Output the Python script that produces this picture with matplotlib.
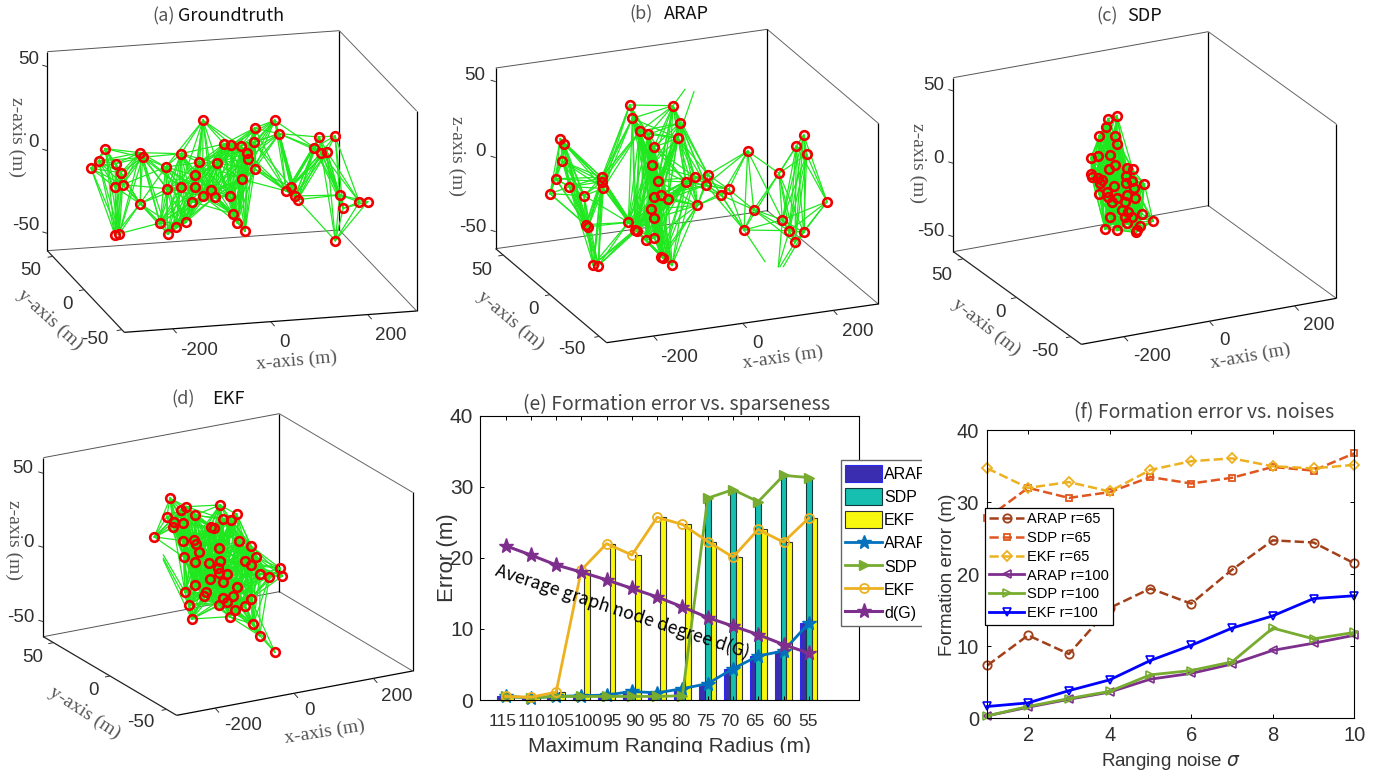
import numpy as np
import matplotlib
matplotlib.use('Agg')
import matplotlib.pyplot as plt
from matplotlib.patches import Rectangle

# node positions as seen in the picture (crop pixels, 3x)
nodes_a = [(609,361),(824,361),(764,384),(838,401),(957,411),(1005,408),(763,426),(672,432),(694,435),(723,438),
           (741,458),(943,443),(964,458),(981,455),(316,446),(420,458),(428,472),(296,483),(347,491),(273,505),
           (497,501),(543,461),(598,487),(652,490),(362,518),(584,526),(764,507),(726,538),(368,554),(345,561),
           (501,566),(542,562),(584,560),(632,571),(608,588),(645,590),(690,587),(873,561),(859,573),(885,588),
           (893,599),(1019,585),(575,605),(420,611),(1078,606),(1103,605),(1030,625),(698,641),(480,669),(557,667),
           (529,682),(503,702),(712,668),(735,693),(345,705),(358,701),(1006,722),(744,476)]
nodes_b = [(569,315),(699,317),(577,355),(720,369),(599,394),(625,403),(714,414),(641,442),(361,416),(373,432),
           (367,484),(635,495),(923,453),(1069,438),(1091,405),(1100,463),(1017,520),(347,536),(485,532),(486,545),
           (490,565),(388,560),(330,581),(432,587),(655,542),(737,546),(764,530),(804,524),(798,555),(866,568),
           (844,586),(642,592),(662,586),(684,596),(772,616),(1161,605),(941,629),(633,628),(643,655),(1027,659),
           (437,674),(445,680),(565,667),(585,689),(590,692),(912,690),(1048,692),(1091,697),(1065,727),(619,721),
           (643,714),(664,770),(670,775),(460,794),(475,797),(696,796)]
nodes_c = [(681,347),(655,356),(648,382),(628,408),(675,408),(682,432),(603,473),(624,467),(660,465),(676,496),
           (657,507),(710,505),(728,508),(603,522),(605,530),(625,535),(635,540),(630,548),(708,528),(727,543),
           (708,550),(763,552),(671,557),(732,565),(627,581),(650,575),(655,590),(680,595),(710,585),(735,595),
           (697,630),(715,635),(755,641),(660,651),(705,650),(725,650),(789,663),(712,670),(750,678),(645,686),
           (681,691),(740,690),(737,697),(665,605),(705,605)]
nodes_d = [(510,340),(559,365),(543,375),(584,391),(660,360),(710,388),(668,402),(694,404),(500,397),(522,412),
           (548,413),(520,425),(632,427),(642,430),(463,456),(550,467),(583,464),(587,477),(716,468),(753,483),
           (596,501),(656,489),(552,517),(586,532),(768,516),(735,529),(754,540),(627,535),(660,527),(655,548),
           (840,550),(847,573),(681,568),(658,565),(780,567),(808,575),(630,582),(670,590),(585,600),(710,607),
           (555,621),(618,621),(611,633),(699,634),(567,660),(656,659),(668,640),(680,650),(752,641),(735,664),
           (704,676),(689,695),(575,702),(760,718),(779,752),(825,802)]

# edges leaving the last node positions (anchor nodes out of view)
stray_b = [((699,317),(735,268)),((714,414),(762,275)),((912,690),(975,785)),((1027,659),(1015,800)),
           ((1065,727),(1020,800)),((1091,697),(1030,800)),((1048,692),(1015,800))]
stray_d = [((490,510),(555,621)),((490,520),(567,660)),((490,525),(575,702))]

radius_labels = ['115','110','105','100','95','90','95','80','75','70','65','60','55']
label_pos_e = [218,305,390,475,545,615,683,752,827,898,975,1055,1133]
bar_arap = [0.5,0.3,0.5,0.6,0.7,1.2,1.0,1.6,2.3,4.4,6.2,6.9,10.8]
bar_sdp = [0.5,0.3,0.5,0.5,0.5,0.5,0.5,0.6,28.4,29.6,27.9,31.6,31.3]
bar_ekf = [0.5,0.4,1.1,18.3,22.0,20.4,25.7,24.7,22.3,20.1,24.0,22.2,25.6]
degree_g = [21.7,20.4,19.0,18.0,16.9,15.7,14.5,13.1,11.6,10.4,9.2,7.8,6.6]

noise = [1,2,3,4,5,6,7,8,9,10]
arap_65 = [7.3,11.5,8.9,15.3,18.0,15.9,20.6,24.7,24.4,21.5]
sdp_65 = [27.8,32.0,30.6,31.4,33.5,32.6,33.4,34.9,34.4,36.8]
ekf_65 = [34.7,32.0,32.8,31.5,34.5,35.7,36.1,35.0,34.7,35.2]
arap_100 = [0.3,1.5,2.6,3.6,5.4,6.2,7.5,9.4,10.4,11.5]
sdp_100 = [0.3,1.6,2.7,3.7,6.0,6.6,7.8,12.5,11.0,11.9]
ekf_100 = [1.6,2.1,3.8,5.3,8.0,10.1,12.5,14.2,16.6,17.0]

SANS = 'Liberation Sans'
CJK = 'Noto Sans CJK SC'
TICK_C = '#303030'

fig = plt.figure(figsize=(13.85, 7.73), dpi=100)
W, H = 1385.0, 773.0

def px_axes(x0, y0, x1, y1):
    return fig.add_axes([x0/W, 1-y1/H, (x1-x0)/W, (y1-y0)/H])

ov = fig.add_axes([0, 0, 1, 1], zorder=5)
ov.set_xlim(0, W)
ov.set_ylim(H, 0)
ov.axis('off')

def draw_box(off, c, zt, yt, xt, zl, yl, xl, lab, rot, title, nodes, reach, stray=()):
    ox, oy = off
    P = lambda p: (p[0]/3.0+ox, p[1]/3.0+oy)
    A, B, C, D, E, F, G = [P(p) for p in c]
    def seg(a, b, col, lw):
        ov.plot([a[0], b[0]], [a[1], b[1]], color=col, lw=lw, solid_capstyle='butt', zorder=1)
    seg(A, B, '#555555', 0.7)
    seg(B, C, '#666666', 0.7)
    seg(G, D, '#666666', 0.7)
    seg(F, G, '#555555', 0.7)
    seg(A, F, 'black', 0.9)
    seg(B, G, 'black', 0.9)
    seg(C, D, 'black', 0.9)
    seg(F, E, '#222222', 0.9)
    seg(E, D, 'black', 0.9)
    for p in zt:
        a = P(p)
        seg(a, (a[0]-5, a[1]-1.5), '#333333', 0.7)
    for p in yt:
        a = P(p)
        seg(a, (a[0]-5, a[1]+1), '#333333', 0.7)
    for p in xt:
        a = P(p)
        seg(a, (a[0]+4, a[1]+4.5), '#333333', 0.7)
    for (p, s) in zip(zl+yl+xl, ['50','0','-50','50','0','-50','-200','0','200']):
        a = P(p)
        ov.text(a[0], a[1], s, fontsize=13.5, family=SANS, color=TICK_C, ha='center', va='center', zorder=3)
    for s, p, r in zip(['x-axis (m)', 'y-axis (m)', 'z-axis (m)'], lab, rot):
        a = P(p)
        ov.text(a[0], a[1], s, fontsize=14, family='Liberation Serif', color='#555555',
                ha='center', va='center', rotation=r, rotation_mode='anchor', zorder=3)
    (t1, p1), (t2, p2) = title
    a = P(p1)
    ov.text(a[0], a[1], t1, fontsize=13, family=CJK, color='#555555', ha='center', va='center', zorder=3)
    a = P(p2)
    ov.text(a[0], a[1], t2, fontsize=13, family=CJK, color='#111111', ha='center', va='center', zorder=3)
    pts = np.array(nodes, dtype=float)
    for i in range(len(pts)):
        for j in range(i+1, len(pts)):
            if np.hypot((pts[i,0]-pts[j,0])/reach[0], (pts[i,1]-pts[j,1])/reach[1]) < 1:
                ov.plot([pts[i,0]/3+ox, pts[j,0]/3+ox], [pts[i,1]/3+oy, pts[j,1]/3+oy],
                        color='#1fe81f', lw=0.9, zorder=2)
    for a, b in stray:
        a, b = P(a), P(b)
        ov.plot([a[0], b[0]], [a[1], b[1]], color='#1fe81f', lw=0.9, zorder=2)
    ov.plot(pts[:,0]/3+ox, pts[:,1]/3+oy, ls='none', marker='o', ms=6.2, mfc='none', mec='#f00000', mew=1.9, zorder=4)

draw_box((0,0), [(142,155),(1018,92),(1250,333),(1250,933),(373,997),(142,752),(1018,690)],
         [(142,200),(142,452),(142,700)], [(158,769),(252,869),(365,989)], [(518,986),(812,965),(1103,944)],
         [(85,180),(100,428),(78,678)], [(92,812),(203,913),(285,1018)], [(597,1052),(852,1028),(1172,1008)],
         [(890,1082),(150,958),(50,412)], [5,-42,-90],
         (('(a)',(492,48)),('Groundtruth',(694,48))), nodes_a, (135,280))
draw_box((440,0), [(167,204),(982,88),(1315,370),(1315,912),(500,1028),(167,746),(982,632)],
         [(167,245),(167,473),(167,695)], [(190,765),(330,884),(478,1009)], [(640,1008),(908,970),(1180,931)],
         [(105,228),(120,453),(97,682)], [(125,812),(280,930),(395,1047)], [(718,1072),(952,1032),(1252,995)],
         [(1028,1072),(212,962),(50,468)], [8,-40,-90],
         (('(b)',(602,42)),('ARAP',(740,42))), nodes_b, (140,340), stray_b)
draw_box((890,0), [(190,233),(955,95),(1339,372),(1339,895),(574,1033),(190,755),(955,617)],
         [(190,273),(190,490),(190,710)], [(218,777),(378,893),(543,1010)], [(702,1010),(958,964),(1214,918)],
         [(130,258),(145,475),(122,693)], [(155,825),(330,938),(465,1053)], [(785,1070),(1002,1022),(1285,977)],
         [(1082,1068),(290,982),(82,490)], [10,-38,-90],
         (('(c)',(652,48)),('SDP',(762,48))), nodes_c, (80,210))
draw_box((0,385), [(130,218),(838,86),(1238,322),(1238,858),(530,991),(130,755),(838,620)],
         [(130,265),(130,487),(130,710)], [(160,773),(330,873),(500,973)], [(645,969),(882,925),(1120,880)],
         [(68,250),(85,473),(62,697)], [(98,818),(280,917),(423,1013)], [(728,1022),(928,977),(1190,935)],
         [(975,1040),(255,982),(42,465)], [9,-33,-90],
         (('(d)',(548,42)),('EKF',(684,42))), nodes_d, (115,215), stray_d)

# panel e
ax = px_axes(480.3, 415.7, 859.3, 700)
pos = np.arange(1, 14)
w = 0.23
ax.bar(pos-w, bar_arap, w, color='#3a2db0', edgecolor='#2a2af0', lw=0.8, label='ARAP')
ax.bar(pos, bar_sdp, w, color='#17bfb0', edgecolor='#123c3c', lw=0.8, label='SDP')
ax.bar(pos+w, bar_ekf, w, color='#f8f80f', edgecolor='#333333', lw=0.8, label='EKF')
ax.plot(pos, bar_arap, color='#0072BD', lw=2, marker='*', ms=10, label='ARAP', clip_on=False)
ax.plot(pos, bar_sdp, color='#77AC30', lw=2, marker='>', ms=7, label='SDP', clip_on=False)
ax.plot(pos, bar_ekf, color='#EDB120', lw=2, marker='o', ms=6.5, mfc='none', mew=1.3, label='EKF', clip_on=False)
ax.plot(pos, degree_g, color='#7E2F8E', lw=2.2, marker='*', ms=11, label='d(G)', clip_on=False)
ax.set_xlim(0, 15)
ax.set_ylim(0, 40)
ax.set_xticks(pos)
ax.set_xticklabels([])
ax.set_yticks([0, 10, 20, 30, 40])
ax.tick_params(direction='in', top=True, right=False, length=3, width=0.7)
ax.tick_params(axis='y', labelsize=15, pad=5, labelcolor=TICK_C, labelfontfamily=SANS)
for s in ax.spines.values():
    s.set_linewidth(0.8)
handles, labels = ax.get_legend_handles_labels()
handles = handles[-3:] + handles[:-3]
labels = labels[-3:] + labels[:-3]
ax.legend(handles, labels, loc='upper left', bbox_to_anchor=(840.7/W, 1-460/H), bbox_transform=fig.transFigure,
          borderaxespad=0, fancybox=False, framealpha=1, edgecolor='#666666',
          prop={'family': SANS, 'size': 11.5}, handlelength=2.3, handleheight=1.25, labelspacing=0.4,
          handletextpad=0.12, borderpad=0.3)
for s, x in zip(radius_labels, label_pos_e):
    ov.text(x/3+430, 1008/3+385, s, fontsize=12.5, family=SANS, color=TICK_C, ha='center', va='center')
ov.text(447, 558, 'Error (m)', fontsize=16, family=SANS, color='#333333', rotation=90, ha='center', va='center')
ov.text(622, 612, 'Average graph node degree d(G)', fontsize=12.8, family=CJK, color='black', ha='center',
        va='center', rotation=-18.2, rotation_mode='anchor')
ov.text(676.5, 404, '(e) Formation error vs. sparseness', fontsize=14, family=CJK, color='#444444',
        ha='center', va='center')
ov.text(669, 746.5, 'Maximum Ranging Radius (m)', fontsize=15, family=SANS, color='#333333', ha='center', va='center')
ov.add_patch(Rectangle((480, 753), 380, 15, fc='white', ec='none', zorder=3))
ov.add_patch(Rectangle((922, 450), 18, 200, fc='white', ec='none', zorder=3))

# panel f
ax2 = px_axes(987.3, 430.3, 1354.3, 718)
ax2.plot(noise, arap_65, color='#A2401A', ls='--', lw=1.8, marker='o', ms=6, mfc='none', mew=1.3, label='ARAP r=65', clip_on=False)
ax2.plot(noise, sdp_65, color='#E0561E', ls='--', lw=1.8, marker='s', ms=4.5, mfc='none', mew=1.3, label='SDP r=65', clip_on=False)
ax2.plot(noise, ekf_65, color='#EDB120', ls='--', lw=1.8, marker='D', ms=5, mfc='none', mew=1.3, label='EKF r=65', clip_on=False)
ax2.plot(noise, arap_100, color='#7E2F8E', lw=2, marker='<', ms=6, mfc='none', mew=1.2, label='ARAP r=100', clip_on=False)
ax2.plot(noise, sdp_100, color='#77AC30', lw=2, marker='>', ms=6, mfc='none', mew=1.2, label='SDP r=100', clip_on=False)
ax2.plot(noise, ekf_100, color='#0000FF', lw=2, marker='v', ms=6, mfc='none', mew=1.2, label='EKF r=100', clip_on=False)
ax2.set_xlim(1, 10)
ax2.set_ylim(0, 40)
ax2.set_xticks([2, 4, 6, 8, 10])
ax2.set_yticks([0, 10, 20, 30, 40])
ax2.tick_params(direction='in', top=True, right=True, length=3, width=0.7, labelsize=14.5, labelcolor=TICK_C,
                labelfontfamily=SANS, pad=6)
for s in ax2.spines.values():
    s.set_linewidth(0.8)
ax2.legend(loc='upper left', bbox_to_anchor=(984.7/W, 1-507.7/H), bbox_transform=fig.transFigure,
           borderaxespad=0, fancybox=False, framealpha=1, edgecolor='black',
           prop={'family': SANS, 'size': 10.5}, handlelength=2.4, labelspacing=0.33,
           handletextpad=0.2, borderpad=0.3)
ax2.get_legend().get_frame().set_linewidth(0.9)
ov.text(948, 575, 'Formation error (m)', fontsize=13.5, family=SANS, color='#333333', rotation=90, ha='center', va='center')
ov.text(1204, 413, '(f) Formation error vs. noises', fontsize=14, family=CJK, color='#444444', ha='center', va='center')
ov.text(1171, 761, r'Ranging noise $\sigma$', fontsize=13.5, family=SANS, color='#333333', ha='center', va='center')

fig.savefig('out.png', dpi=100)
